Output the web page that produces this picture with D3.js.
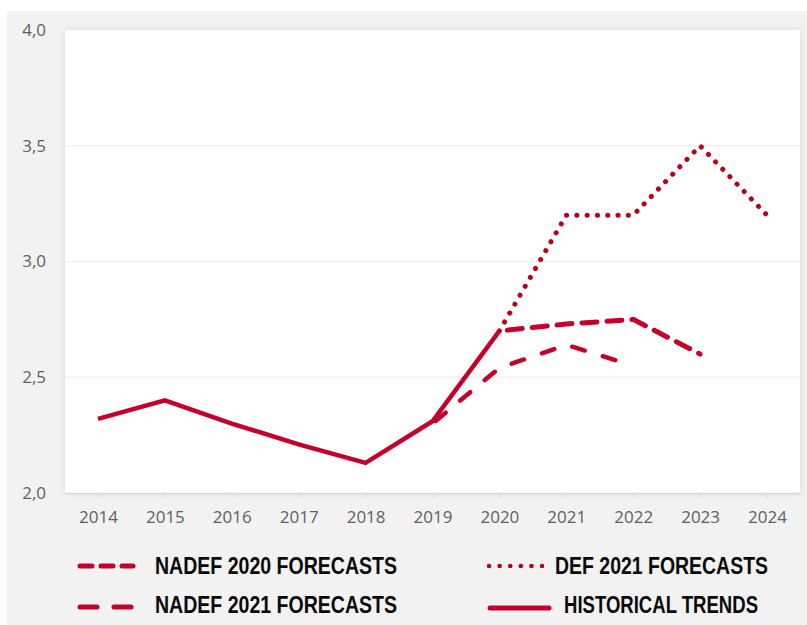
<!DOCTYPE html>
<html><head><meta charset="utf-8">
<script src="https://cdn.jsdelivr.net/npm/d3@7"></script>
<style>body{margin:0;background:#fff}svg{display:block}</style>
</head><body>
<svg id="c" width="807" height="625"></svg>
<script>
const yTicks = [2.0, 2.5, 3.0, 3.5, 4.0];
const xYears = [2014,2015,2016,2017,2018,2019,2020,2021,2022,2023,2024];
const histYears = [2014,2015,2016,2017,2018,2019,2020];
const histValues = [2.32,2.40,2.30,2.21,2.13,2.31,2.70];
const nadef2020Years = [2020,2021,2022,2023];
const nadef2020Values = [2.70,2.73,2.75,2.60];
const nadef2021Years = [2019,2020,2021,2022];
const nadef2021Values = [2.30,2.54,2.64,2.55];
const def2021Years = [2020,2021,2022,2023,2024];
const def2021Values = [2.70,3.20,3.20,3.50,3.20];
const legendLabels = ["NADEF 2020 FORECASTS","NADEF 2021 FORECASTS","DEF 2021 FORECASTS","HISTORICAL TRENDS"];

const RED = "#c3002b";
const svg = d3.select("#c");
const defs = svg.append("defs");
const f = defs.append("filter").attr("id","sh").attr("x","-5%").attr("y","-5%").attr("width","110%").attr("height","110%");
f.append("feGaussianBlur").attr("in","SourceAlpha").attr("stdDeviation",3);
f.append("feOffset").attr("dx",0).attr("dy",0).attr("result","b");
f.append("feComponentTransfer").append("feFuncA").attr("type","linear").attr("slope",0.12);
const m = f.append("feMerge"); m.append("feMergeNode"); m.append("feMergeNode").attr("in","SourceGraphic");

svg.append("rect").attr("x",7).attr("y",11).attr("width",800).attr("height",614).attr("fill","#f2f2f2");
svg.append("rect").attr("x",65).attr("y",30).attr("width",735).attr("height",463).attr("fill","#fff").attr("filter","url(#sh)");

const x = d3.scaleLinear().domain([2014,2024]).range([98,767]);
const y = d3.scaleLinear().domain([2,4]).range([493,30]);

// gridlines
svg.append("g").selectAll("line").data(yTicks.filter(d=>d>2 && d<4)).join("line")
  .attr("x1",65).attr("x2",800).attr("y1",d=>y(d)).attr("y2",d=>y(d))
  .attr("stroke","#f1f1f1").attr("stroke-width",1.5);

// y labels
svg.append("g").selectAll("text").data(yTicks).join("text")
  .attr("x",46).attr("y",d=>y(d)).attr("dy","0.35em").attr("text-anchor","end")
  .attr("font-family","'Open Sans', sans-serif").attr("font-size",17).attr("fill","#606060")
  .text(d=>d3.format(".1f")(d).replace(".",","));

// x axis
const xa = svg.append("g").attr("transform",`translate(0,${y(2)})`)
  .call(d3.axisBottom(x).tickValues(xYears).tickFormat(d3.format("d")).tickSize(5).tickPadding(13));
xa.select(".domain").attr("d","M65,0.5H800").attr("stroke","#d9d9d9").attr("stroke-width",1.5);
xa.selectAll(".tick line").attr("stroke","#d9d9d9");
xa.selectAll(".tick text").attr("font-family","'Open Sans', sans-serif").attr("font-size",17).attr("fill","#606060");

const line = d3.line().x(d=>x(d[0])).y(d=>y(d[1]));
const zip = (a,b)=>a.map((v,i)=>[v,b[i]]);

svg.append("path").datum(zip(def2021Years,def2021Values)).attr("d",line)
  .attr("fill","none").attr("stroke","#b8001c").attr("stroke-width",5).attr("stroke-linecap","round")
  .attr("stroke-dasharray","0.1 10.2");
svg.append("path").datum(zip(nadef2021Years,nadef2021Values)).attr("d",line)
  .attr("fill","none").attr("stroke",RED).attr("stroke-width",4.5).attr("stroke-linecap","round")
  .attr("stroke-dasharray","13 19").attr("stroke-dashoffset",-4);
svg.append("path").datum(zip(nadef2020Years,nadef2020Values)).attr("d",line)
  .attr("fill","none").attr("stroke",RED).attr("stroke-width",5).attr("stroke-linecap","round")
  .attr("stroke-dasharray","15 10").attr("stroke-dashoffset",-8);
svg.append("path").datum(zip(histYears,histValues)).attr("d",line)
  .attr("fill","none").attr("stroke",RED).attr("stroke-width",4.5).attr("stroke-linejoin","miter");

// legend
const lg = svg.append("g");
const items = [
  {x1:80,x2:133,y:566,tx:155,tw:242,ty:574,dash:"12 9",w:5,cap:"round",col:RED,label:legendLabels[0]},
  {x1:80,x2:132,y:607,tx:155,tw:242,ty:613,dash:"17 17",w:5,cap:"round",col:RED,label:legendLabels[1]},
  {x1:489,x2:543,y:566,tx:555,tw:213,ty:574,dash:"0.1 10.5",w:4.5,cap:"round",col:"#b8001c",label:legendLabels[2]},
  {x1:490,x2:549,y:608,tx:564,tw:194,ty:613,dash:null,w:5,cap:"round",col:RED,label:legendLabels[3]}
];
items.forEach(it=>{
  const l = lg.append("line").attr("x1",it.x1).attr("x2",it.x2).attr("y1",it.y).attr("y2",it.y)
    .attr("stroke",it.col).attr("stroke-width",it.w).attr("stroke-linecap",it.cap);
  if(it.dash) l.attr("stroke-dasharray",it.dash);
  lg.append("text").attr("x",it.tx).attr("y",it.ty)
    .attr("font-family","'Liberation Sans Narrow','Liberation Sans',sans-serif").attr("font-weight","bold")
    .attr("font-size",23).attr("fill","#0a0a0a")
    .attr("textLength",it.tw).attr("lengthAdjust","spacingAndGlyphs").text(it.label);
});
</script>
</body></html>
